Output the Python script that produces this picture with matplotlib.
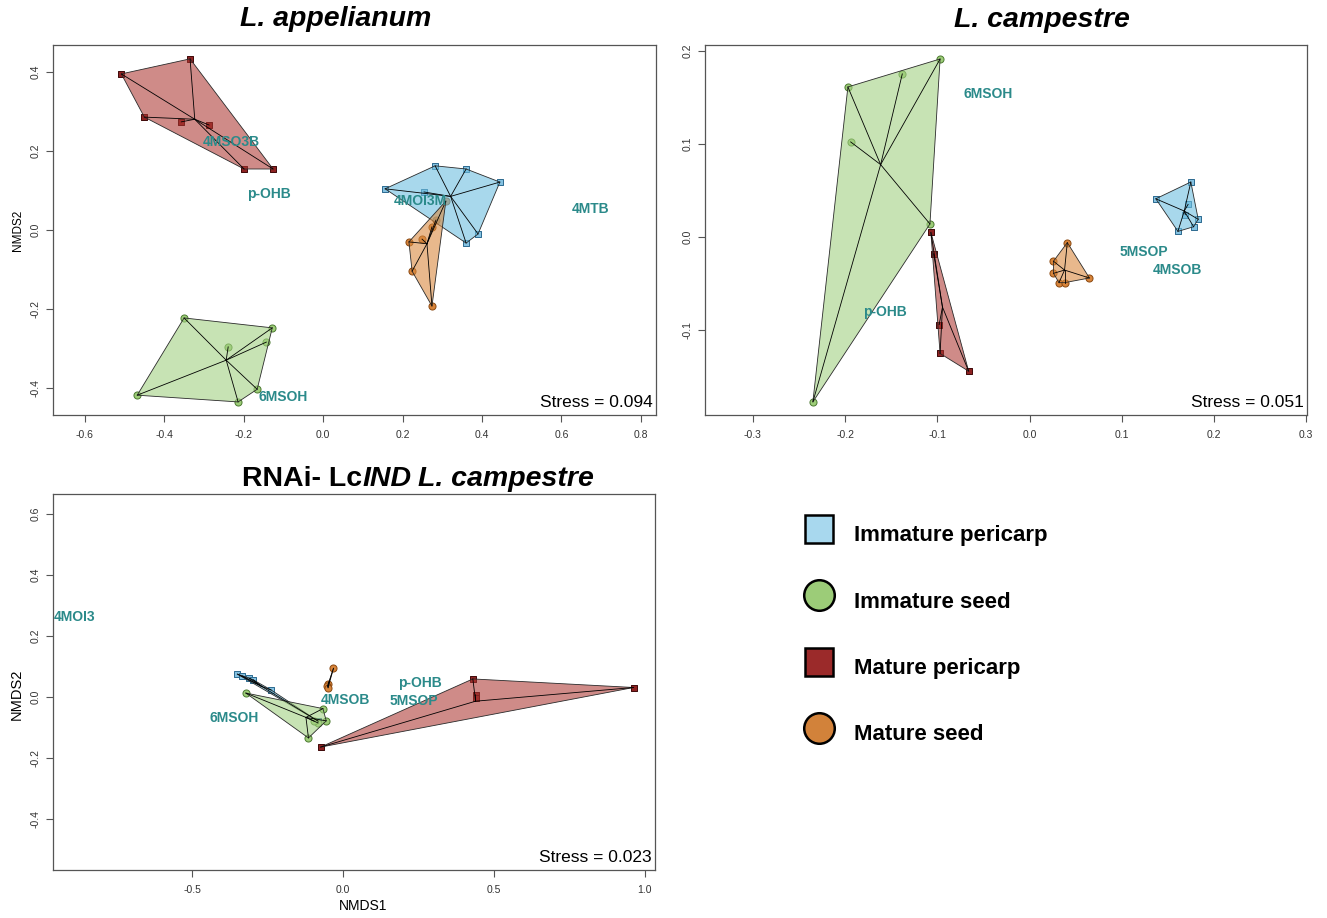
import numpy as np
import matplotlib
matplotlib.use("Agg")
import matplotlib.pyplot as plt
from matplotlib.lines import Line2D
from matplotlib.patches import Polygon
from matplotlib.ticker import FixedLocator, FormatStrFormatter

plt.rcParams['font.family'] = ['Liberation Sans', 'DejaVu Sans']
plt.rcParams['axes.unicode_minus'] = False

# ---------------- data ----------------
groups = ["Immature pericarp", "Immature seed", "Mature pericarp", "Mature seed"]

# Panel A: L. appelianum
A_imm_peri_x = [0.156, 0.282, 0.360, 0.445, 0.254, 0.390, 0.360]
A_imm_peri_y = [0.104, 0.162, 0.154, 0.121, 0.096, -0.010, -0.033]
A_imm_seed_x = [-0.350, -0.128, -0.143, -0.239, -0.468, -0.166, -0.214]
A_imm_seed_y = [-0.222, -0.247, -0.283, -0.295, -0.417, -0.402, -0.434]
A_mat_peri_x = [-0.508, -0.335, -0.450, -0.357, -0.287, -0.199, -0.126]
A_mat_peri_y = [0.394, 0.432, 0.285, 0.273, 0.265, 0.154, 0.154]
A_mat_seed_x = [0.309, 0.284, 0.274, 0.249, 0.216, 0.224, 0.274]
A_mat_seed_y = [0.073, 0.025, 0.008, -0.023, -0.030, -0.104, -0.192]
A_species = ["4MSO3B", "p-OHB", "4MOI3M", "4MTB", "6MSOH"]
A_species_x = [-0.231, -0.136, 0.244, 0.674, -0.101]
A_species_y = [0.222, 0.091, 0.073, 0.053, -0.422]
A_stress = "Stress = 0.094"

# Panel B: L. campestre
B_imm_peri_x = [0.175, 0.137, 0.172, 0.169, 0.183, 0.178, 0.161]
B_imm_peri_y = [0.059, 0.041, 0.035, 0.024, 0.019, 0.011, 0.006]
B_imm_seed_x = [-0.097, -0.197, -0.138, -0.194, -0.108, -0.235]
B_imm_seed_y = [0.191, 0.161, 0.175, 0.102, 0.014, -0.177]
B_mat_peri_x = [-0.107, -0.104, -0.098, -0.097, -0.066]
B_mat_peri_y = [0.005, -0.018, -0.094, -0.125, -0.144]
B_mat_seed_x = [0.041, 0.026, 0.026, 0.032, 0.038, 0.065]
B_mat_seed_y = [-0.006, -0.026, -0.039, -0.049, -0.049, -0.044]
B_species = ["6MSOH", "p-OHB", "5MSOP", "4MSOB"]
B_species_x = [-0.045, -0.157, 0.124, 0.161]
B_species_y = [0.153, -0.080, -0.016, -0.035]
B_stress = "Stress = 0.051"

# Panel C: RNAi- LcIND L. campestre
C_imm_peri_x = [-0.351, -0.335, -0.312, -0.298, -0.239, -0.083]
C_imm_peri_y = [0.075, 0.069, 0.062, 0.056, 0.023, -0.079]
C_imm_seed_x = [-0.323, -0.067, -0.056, -0.083, -0.115, -0.096]
C_imm_seed_y = [0.013, -0.038, -0.078, -0.085, -0.134, -0.079]
C_mat_peri_x = [0.430, 0.439, 0.439, 0.963, -0.075]
C_mat_peri_y = [0.059, 0.007, -0.002, 0.031, -0.164]
C_mat_seed_x = [-0.032, -0.049, -0.052, -0.050]
C_mat_seed_y = [0.094, 0.044, 0.035, 0.030]
C_species = ["4MOI3", "p-OHB", "5MSOP", "4MSOB", "6MSOH"]
C_species_x = [-0.891, 0.255, 0.236, 0.006, -0.360]
C_species_y = [0.263, 0.045, -0.013, -0.011, -0.070]
C_stress = "Stress = 0.023"

# ---------------- style ----------------
W, H = 1327, 918
markers = {"Immature pericarp": "s", "Immature seed": "o", "Mature pericarp": "s", "Mature seed": "o"}
pt_face = {"Immature pericarp": "#84c2e2", "Immature seed": "#9dcd78",
           "Mature pericarp": "#8e2222", "Mature seed": "#d8843a"}
pt_edge = {"Immature pericarp": "#2c6a90", "Immature seed": "#4b7a30",
           "Mature pericarp": "#3e0808", "Mature seed": "#8a4810"}
hull_col = {"Immature pericarp": (0.43, 0.75, 0.88, 0.6), "Immature seed": (0.64, 0.82, 0.51, 0.6),
            "Mature pericarp": (0.68, 0.22, 0.20, 0.58), "Mature seed": (0.85, 0.54, 0.25, 0.6)}
leg_face = {"Immature pericarp": "#a8d8ee", "Immature seed": "#9ccc78",
            "Mature pericarp": "#9b2a2a", "Mature seed": "#d2823a"}
teal = "#2b8a8a"

fig = plt.figure(figsize=(W / 100, H / 100), dpi=100)
fig.patch.set_facecolor("white")


def px_axes(l, t, r, b):
    return fig.add_axes([l / W, 1 - b / H, (r - l) / W, (b - t) / H])


def convex_hull(xs, ys):
    pts = sorted(set(zip(xs, ys)))
    if len(pts) <= 2:
        return pts

    def cross(o, a, b):
        return (a[0] - o[0]) * (b[1] - o[1]) - (a[1] - o[1]) * (b[0] - o[0])
    lower, upper = [], []
    for p in pts:
        while len(lower) >= 2 and cross(lower[-2], lower[-1], p) <= 0:
            lower.pop()
        lower.append(p)
    for p in reversed(pts):
        while len(upper) >= 2 and cross(upper[-2], upper[-1], p) <= 0:
            upper.pop()
        upper.append(p)
    return lower[:-1] + upper[:-1]


def draw_group(ax, g, xs, ys):
    m = markers[g]
    ax.scatter(xs, ys, marker=m, s=20 if m == "s" else 26, c=pt_face[g],
               edgecolors=pt_edge[g], linewidths=0.7, zorder=2)
    hp = convex_hull(xs, ys)
    ax.add_patch(Polygon(hp, closed=True, facecolor=hull_col[g], edgecolor="#2a2a2a",
                         linewidth=0.6, zorder=3))
    cx, cy = np.mean(xs), np.mean(ys)
    for x, y in zip(xs, ys):
        ax.plot([cx, x], [cy, y], color="black", lw=0.6, zorder=4)


def style_axes(ax, xt, yt, xlim, ylim, fmt="%.1f"):
    ax.set_xlim(*xlim)
    ax.set_ylim(*ylim)
    ax.xaxis.set_major_locator(FixedLocator(xt))
    ax.yaxis.set_major_locator(FixedLocator(yt))
    ax.xaxis.set_major_formatter(FormatStrFormatter(fmt))
    ax.yaxis.set_major_formatter(FormatStrFormatter(fmt))
    ax.tick_params(direction="out", length=5, width=0.8, colors="#555555",
                   labelcolor="#333333", labelsize=7.5)
    ax.tick_params(axis="x", pad=6)
    ax.tick_params(axis="y", pad=4, labelrotation=90)
    for lab in ax.get_yticklabels():
        lab.set_va("center")
    for sp in ax.spines.values():
        sp.set_color("#555555")
        sp.set_linewidth(0.9)
    ax.set_facecolor("white")


def species_labels(ax, names, xs, ys):
    for n, x, y in zip(names, xs, ys):
        ax.text(x, y, n, color=teal, fontsize=10, fontweight="bold",
                ha="center", va="center", zorder=6)


def stress(ax, s):
    ax.text(0.994, 0.014, s, transform=ax.transAxes, ha="right", va="bottom",
            fontsize=12.5, color="black", zorder=7)


# Panel A
axA = px_axes(53, 45, 656, 415)
for g, xs, ys in zip(groups, [A_imm_peri_x, A_imm_seed_x, A_mat_peri_x, A_mat_seed_x],
                     [A_imm_peri_y, A_imm_seed_y, A_mat_peri_y, A_mat_seed_y]):
    draw_group(axA, g, xs, ys)
species_labels(axA, A_species, A_species_x, A_species_y)
stress(axA, A_stress)
style_axes(axA, [-0.6, -0.4, -0.2, 0.0, 0.2, 0.4, 0.6, 0.8], [-0.4, -0.2, 0.0, 0.2, 0.4],
           (-0.680, 0.838), (-0.467, 0.467))
fig.text(18 / W, 1 - 230 / H, "NMDS2", fontsize=8.5, rotation=90, ha="center", va="center")

# Panel B
axB = px_axes(705, 45, 1307, 415)
for g, xs, ys in zip(groups, [B_imm_peri_x, B_imm_seed_x, B_mat_peri_x, B_mat_seed_x],
                     [B_imm_peri_y, B_imm_seed_y, B_mat_peri_y, B_mat_seed_y]):
    draw_group(axB, g, xs, ys)
species_labels(axB, B_species, B_species_x, B_species_y)
stress(axB, B_stress)
style_axes(axB, [-0.3, -0.2, -0.1, 0.0, 0.1, 0.2, 0.3], [-0.1, 0.0, 0.1, 0.2],
           (-0.352, 0.301), (-0.191, 0.206))

# Panel C
axC = px_axes(53, 494, 655, 870)
for g, xs, ys in zip(groups, [C_imm_peri_x, C_imm_seed_x, C_mat_peri_x, C_mat_seed_x],
                     [C_imm_peri_y, C_imm_seed_y, C_mat_peri_y, C_mat_seed_y]):
    draw_group(axC, g, xs, ys)
species_labels(axC, C_species, C_species_x, C_species_y)
stress(axC, C_stress)
style_axes(axC, [-0.5, 0.0, 0.5, 1.0], [-0.4, -0.2, 0.0, 0.2, 0.4, 0.6],
           (-0.962, 1.034), (-0.566, 0.664))
fig.text(17 / W, 1 - 694 / H, "NMDS2", fontsize=10.5, rotation=90, ha="center", va="center")
fig.text(363 / W, 1 - 906 / H, "NMDS1", fontsize=10, ha="center", va="center")

# Titles
fig.text(336 / W, 1 - 19 / H, "L. appelianum", fontsize=20.5, fontweight="bold",
         fontstyle="italic", ha="center", va="center")
fig.text(1042 / W, 1 - 20 / H, "L. campestre", fontsize=20.5, fontweight="bold",
         fontstyle="italic", ha="center", va="center")

renderer = fig.canvas.get_renderer()
parts = [("RNAi- Lc", "normal", 0.0), ("IND", "italic", 0.0), ("L. campestre", "italic", 6.0)]
ttexts = []
for s, st, gap in parts:
    t = fig.text(0, 1 - 479 / H, s, fontsize=20.5, fontweight="bold", fontstyle=st,
                 ha="left", va="center")
    ttexts.append((t, gap))
widths = [t.get_window_extent(renderer).width for t, _ in ttexts]
total = sum(widths) + sum(g for _, g in ttexts)
xcur = 418 - total / 2
for (t, gap), w in zip(ttexts, widths):
    xcur += gap
    t.set_x(xcur / W)
    xcur += w

# Legend
handles = [Line2D([], [], marker=markers[g], ms=20 if markers[g] == "s" else 22, mfc=leg_face[g],
                  mec="black", mew=1.8, ls="none") for g in groups]
fig.legend(handles, groups, loc="upper left", bbox_to_anchor=(797 / W, 1 - 517 / H),
           frameon=False, prop=dict(weight="bold", size=16), handlelength=2.0,
           handleheight=2.0, labelspacing=1.44, borderpad=0, borderaxespad=0,
           handletextpad=0.55)

fig.savefig("out.png", dpi=100, facecolor="white")
